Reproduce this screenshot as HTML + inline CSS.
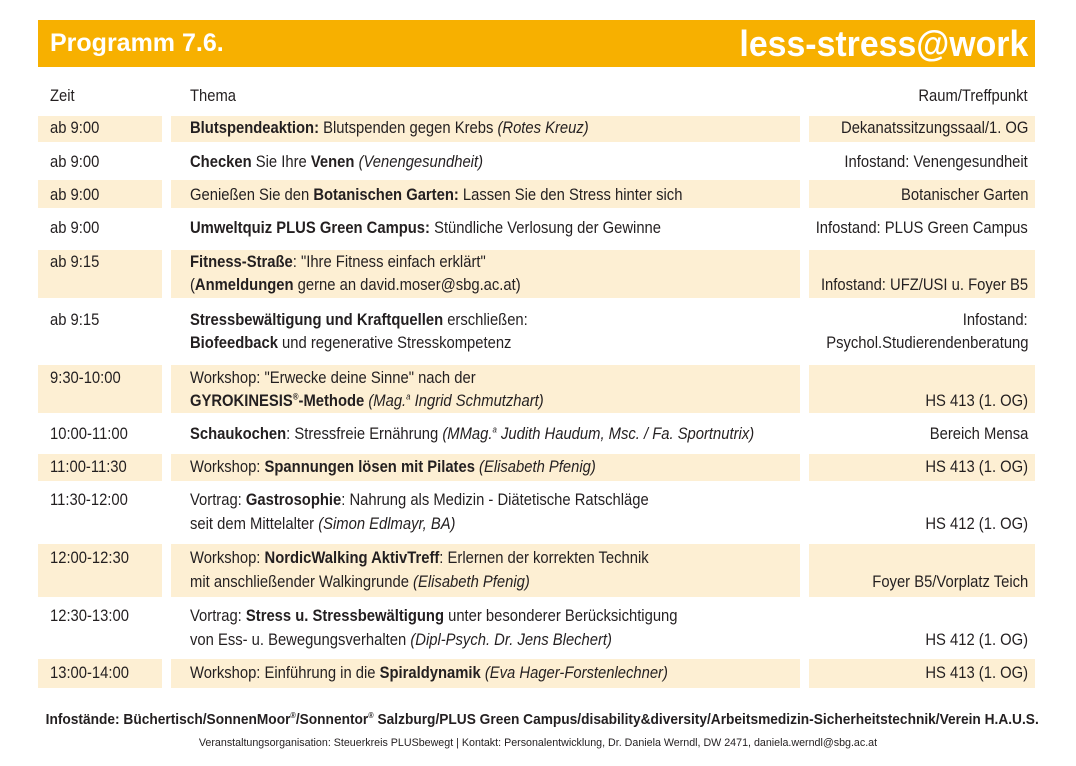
<!DOCTYPE html>
<html><head><meta charset="utf-8"><style>
body{margin:0;width:1076px;height:766px;background:#fff;position:relative;overflow:hidden;font-family:"Liberation Sans Narrow","Liberation Sans",sans-serif;color:#231f20}
.a{position:absolute}
.bg{position:absolute;background:#fdefd3}
.t{position:absolute;font-size:17px;line-height:20px;white-space:nowrap;transform:scaleX(0.87);transform-origin:left center}
.r{text-align:right;right:48px;transform-origin:right center}
b{font-weight:bold}
sup{line-height:0;font-size:9px}
</style></head><body>
<div class="a" style="left:38px;top:20px;width:997px;height:47px;background:#f7b000"></div>
<div class="a" style="left:50px;top:28px;font-size:25px;line-height:30px;color:#fff;font-weight:bold;font-family:'Liberation Sans',sans-serif">Programm 7.6.</div>
<div class="a" style="right:48px;top:23px;font-size:36px;line-height:42px;color:#fff;font-weight:bold;transform:scaleX(0.94);transform-origin:right center">less-stress@work</div>

<div class="bg" style="left:38px;top:116px;width:124px;height:26px"></div><div class="bg" style="left:171px;top:116px;width:629px;height:26px"></div><div class="bg" style="left:809px;top:116px;width:226px;height:26px"></div>
<div class="bg" style="left:38px;top:180px;width:124px;height:28px"></div><div class="bg" style="left:171px;top:180px;width:629px;height:28px"></div><div class="bg" style="left:809px;top:180px;width:226px;height:28px"></div>
<div class="bg" style="left:38px;top:250px;width:124px;height:48px"></div><div class="bg" style="left:171px;top:250px;width:629px;height:48px"></div><div class="bg" style="left:809px;top:250px;width:226px;height:48px"></div>
<div class="bg" style="left:38px;top:365px;width:124px;height:48px"></div><div class="bg" style="left:171px;top:365px;width:629px;height:48px"></div><div class="bg" style="left:809px;top:365px;width:226px;height:48px"></div>
<div class="bg" style="left:38px;top:454px;width:124px;height:27px"></div><div class="bg" style="left:171px;top:454px;width:629px;height:27px"></div><div class="bg" style="left:809px;top:454px;width:226px;height:27px"></div>
<div class="bg" style="left:38px;top:544px;width:124px;height:53px"></div><div class="bg" style="left:171px;top:544px;width:629px;height:53px"></div><div class="bg" style="left:809px;top:544px;width:226px;height:53px"></div>
<div class="bg" style="left:38px;top:659px;width:124px;height:29px"></div><div class="bg" style="left:171px;top:659px;width:629px;height:29px"></div><div class="bg" style="left:809px;top:659px;width:226px;height:29px"></div>

<div class="t" style="left:50px;top:86px">Zeit</div><div class="t" style="left:190px;top:86px">Thema</div><div class="t r" style="top:86px">Raum/Treffpunkt</div>

<div class="t" style="left:50px;top:118px">ab 9:00</div><div class="t" style="left:190px;top:118px"><b>Blutspendeaktion:</b> Blutspenden gegen Krebs <i>(Rotes Kreuz)</i></div><div class="t r" style="top:118px">Dekanatssitzungssaal/1. OG</div>
<div class="t" style="left:50px;top:152px">ab 9:00</div><div class="t" style="left:190px;top:152px"><b>Checken</b> Sie Ihre <b>Venen</b> <i>(Venengesundheit)</i></div><div class="t r" style="top:152px">Infostand: Venengesundheit</div>
<div class="t" style="left:50px;top:185px">ab 9:00</div><div class="t" style="left:190px;top:185px">Genießen Sie den <b>Botanischen Garten:</b> Lassen Sie den Stress hinter sich</div><div class="t r" style="top:185px">Botanischer Garten</div>
<div class="t" style="left:50px;top:218px">ab 9:00</div><div class="t" style="left:190px;top:218px"><b>Umweltquiz PLUS Green Campus:</b> Stündliche Verlosung der Gewinne</div><div class="t r" style="top:218px">Infostand: PLUS Green Campus</div>
<div class="t" style="left:50px;top:252px">ab 9:15</div><div class="t" style="left:190px;top:252px"><b>Fitness-Straße</b>: "Ihre Fitness einfach erklärt"</div><div class="t" style="left:190px;top:275px">(<b>Anmeldungen</b> gerne an david.moser@sbg.ac.at)</div><div class="t r" style="top:275px">Infostand: UFZ/USI u. Foyer B5</div>
<div class="t" style="left:50px;top:310px">ab 9:15</div><div class="t" style="left:190px;top:310px"><b>Stressbewältigung und Kraftquellen</b> erschließen:</div><div class="t" style="left:190px;top:333px"><b>Biofeedback</b> und regenerative Stresskompetenz</div><div class="t r" style="top:310px">Infostand:</div><div class="t r" style="top:333px">Psychol.Studierendenberatung</div>
<div class="t" style="left:50px;top:368px">9:30-10:00</div><div class="t" style="left:190px;top:368px">Workshop: "Erwecke deine Sinne" nach der</div><div class="t" style="left:190px;top:391px"><b>GYROKINESIS<sup>®</sup>-Methode</b> <i>(Mag.<sup>a</sup> Ingrid Schmutzhart)</i></div><div class="t r" style="top:391px">HS 413 (1. OG)</div>
<div class="t" style="left:50px;top:424px">10:00-11:00</div><div class="t" style="left:190px;top:424px"><b>Schaukochen</b>: Stressfreie Ernährung <i>(MMag.<sup>a</sup> Judith Haudum, Msc. / Fa. Sportnutrix)</i></div><div class="t r" style="top:424px">Bereich Mensa</div>
<div class="t" style="left:50px;top:457px">11:00-11:30</div><div class="t" style="left:190px;top:457px">Workshop: <b>Spannungen lösen mit Pilates</b> <i>(Elisabeth Pfenig)</i></div><div class="t r" style="top:457px">HS 413 (1. OG)</div>
<div class="t" style="left:50px;top:490px">11:30-12:00</div><div class="t" style="left:190px;top:490px">Vortrag: <b>Gastrosophie</b>: Nahrung als Medizin - Diätetische Ratschläge</div><div class="t" style="left:190px;top:514px">seit dem Mittelalter <i>(Simon Edlmayr, BA)</i></div><div class="t r" style="top:514px">HS 412 (1. OG)</div>
<div class="t" style="left:50px;top:548px">12:00-12:30</div><div class="t" style="left:190px;top:548px">Workshop: <b>NordicWalking AktivTreff</b>: Erlernen der korrekten Technik</div><div class="t" style="left:190px;top:572px">mit anschließender Walkingrunde <i>(Elisabeth Pfenig)</i></div><div class="t r" style="top:572px">Foyer B5/Vorplatz Teich</div>
<div class="t" style="left:50px;top:606px">12:30-13:00</div><div class="t" style="left:190px;top:606px">Vortrag: <b>Stress u. Stressbewältigung</b> unter besonderer Berücksichtigung</div><div class="t" style="left:190px;top:630px">von Ess- u. Bewegungsverhalten <i>(Dipl-Psych. Dr. Jens Blechert)</i></div><div class="t r" style="top:630px">HS 412 (1. OG)</div>
<div class="t" style="left:50px;top:663px">13:00-14:00</div><div class="t" style="left:190px;top:663px">Workshop: Einführung in die <b>Spiraldynamik</b> <i>(Eva Hager-Forstenlechner)</i></div><div class="t r" style="top:663px">HS 413 (1. OG)</div>

<div class="a" style="left:0;width:1076px;top:711px;text-align:center;font-size:15px;line-height:18px;font-weight:bold;white-space:nowrap;transform:scaleX(0.915);transform-origin:537px center">Infostände: Büchertisch/SonnenMoor<sup style="font-size:8px">®</sup>/Sonnentor<sup style="font-size:8px">®</sup> Salzburg/PLUS Green Campus/disability&amp;diversity/Arbeitsmedizin-Sicherheitstechnik/Verein H.A.U.S.</div>
<div class="a" style="left:0;width:1076px;top:737px;text-align:center;font-size:10.7px;line-height:12px;white-space:nowrap;transform-origin:537px center">Veranstaltungsorganisation: Steuerkreis PLUSbewegt | Kontakt: Personalentwicklung, Dr. Daniela Werndl, DW 2471, daniela.werndl@sbg.ac.at</div>
</body></html>
